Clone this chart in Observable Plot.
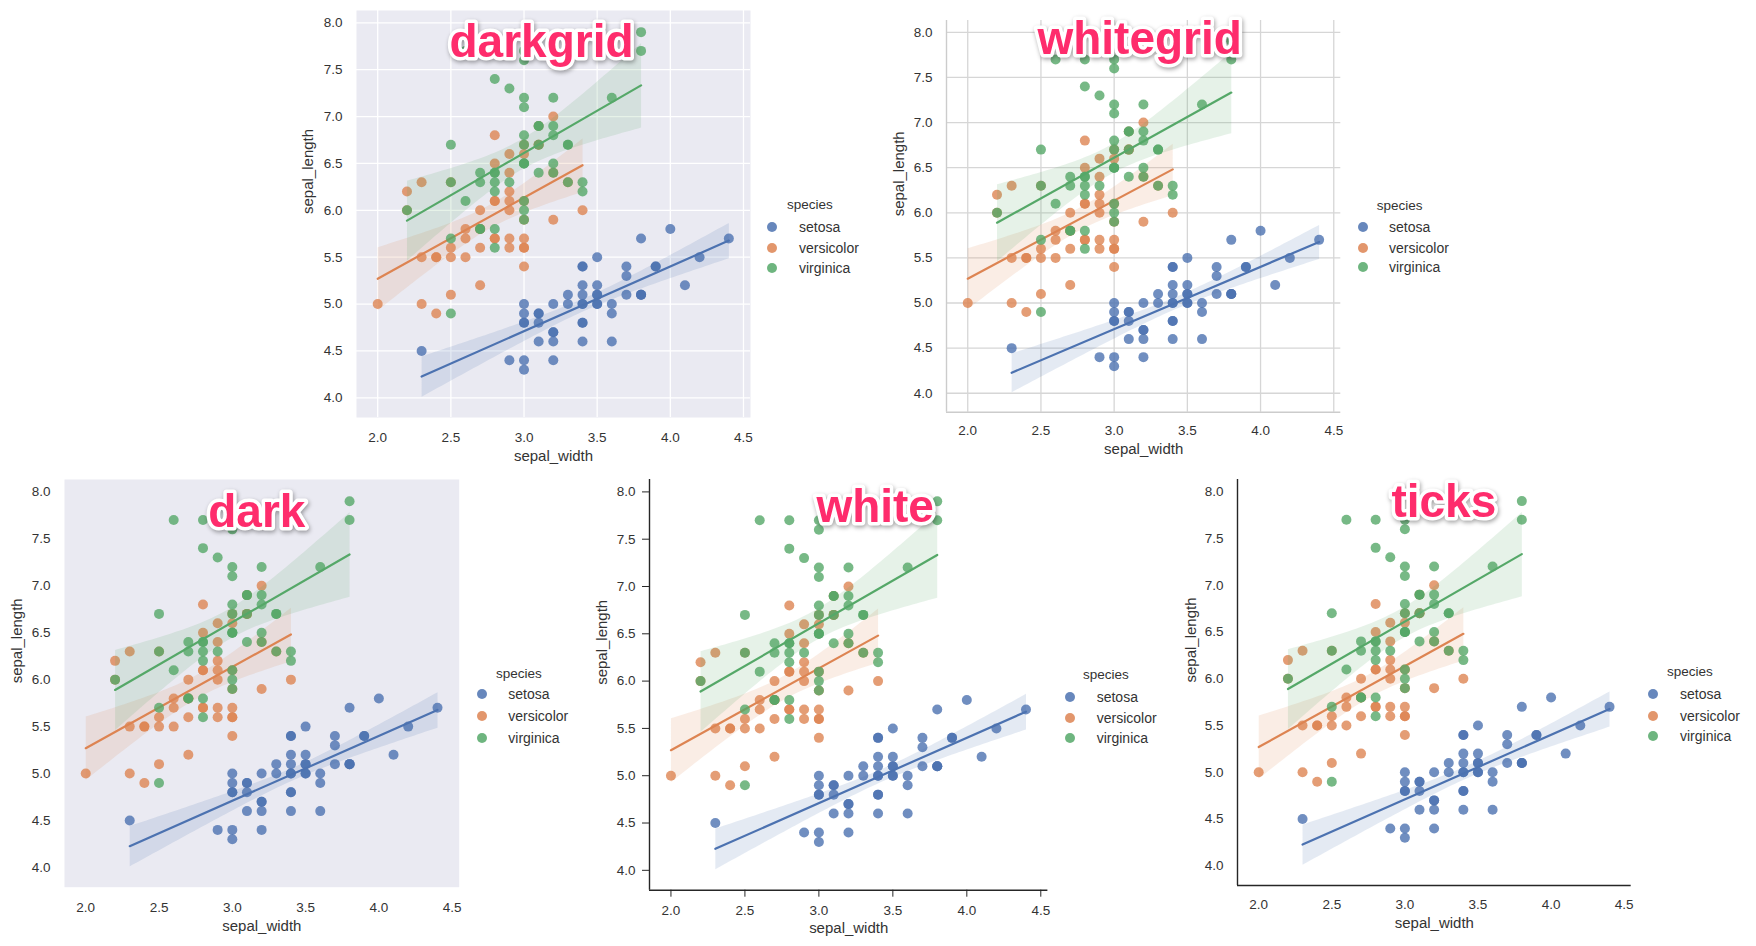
<!DOCTYPE html>
<html>
<head>
<meta charset="utf-8">
<script src="https://cdn.jsdelivr.net/npm/d3@7"></script>
<script src="https://cdn.jsdelivr.net/npm/@observablehq/plot@0.6"></script>
<style>
html, body { margin: 0; padding: 0; background: #fff; }
#root { position: relative; width: 1756px; height: 946px; overflow: hidden; font-family: "Liberation Sans", Arial, sans-serif; }
.panel { position: absolute; overflow: visible; }
.panel g[font-size="46"] { filter: drop-shadow(1px 2px 2px rgba(0,0,0,0.35)); }
.lg { position: absolute; color: #333; white-space: nowrap; line-height: 1; }
.lg-title { font-size: 13.5px; }
.lg-label { font-size: 14px; }
.lg-dot { position: absolute; width: 10px; height: 10px; border-radius: 50%; opacity: 0.85; }
</style>
</head>
<body>
<div id="root"></div>
<script>
// ---------- data (iris: sepal_width / sepal_length) ----------
const species = ["setosa", "versicolor", "virginica"];
const palette = ["#4c72b0", "#dd8452", "#55a868"];
const xTicks = [2.0, 2.5, 3.0, 3.5, 4.0, 4.5];
const yTicks = [4.0, 4.5, 5.0, 5.5, 6.0, 6.5, 7.0, 7.5, 8.0];
const styleNames = ["darkgrid", "whitegrid", "dark", "white", "ticks"];

const setosaLength = [5.1,4.9,4.7,4.6,5.0,5.4,4.6,5.0,4.4,4.9,5.4,4.8,4.8,4.3,5.8,5.7,5.4,5.1,5.7,5.1,5.4,5.1,4.6,5.1,4.8,5.0,5.0,5.2,5.2,4.7,4.8,5.4,5.2,5.5,4.9,5.0,5.5,4.9,4.4,5.1,5.0,4.5,4.4,5.0,5.1,4.8,5.1,4.6,5.3,5.0];
const setosaWidth = [3.5,3.0,3.2,3.1,3.6,3.9,3.4,3.4,2.9,3.1,3.7,3.4,3.0,3.0,4.0,4.4,3.9,3.5,3.8,3.8,3.4,3.7,3.6,3.3,3.4,3.0,3.4,3.5,3.4,3.2,3.1,3.4,4.1,4.2,3.1,3.2,3.5,3.6,3.0,3.4,3.5,2.3,3.2,3.5,3.8,3.0,3.8,3.2,3.7,3.3];
const versicolorLength = [7.0,6.4,6.9,5.5,6.5,5.7,6.3,4.9,6.6,5.2,5.0,5.9,6.0,6.1,5.6,6.7,5.6,5.8,6.2,5.6,5.9,6.1,6.3,6.1,6.4,6.6,6.8,6.7,6.0,5.7,5.5,5.5,5.8,6.0,5.4,6.0,6.7,6.3,5.6,5.5,5.5,6.1,5.8,5.0,5.6,5.7,5.7,6.2,5.1,5.7];
const versicolorWidth = [3.2,3.2,3.1,2.3,2.8,2.8,3.3,2.4,2.9,2.7,2.0,3.0,2.2,2.9,2.9,3.1,3.0,2.7,2.2,2.5,3.2,2.8,2.5,2.8,2.9,3.0,2.8,3.0,2.9,2.6,2.4,2.4,2.7,2.7,3.0,3.4,3.1,2.3,3.0,2.5,2.6,3.0,2.6,2.3,2.7,3.0,2.9,2.9,2.5,2.8];
const virginicaLength = [6.3,5.8,7.1,6.3,6.5,7.6,4.9,7.3,6.7,7.2,6.5,6.4,6.8,5.7,5.8,6.4,6.5,7.7,7.7,6.0,6.9,5.6,7.7,6.3,6.7,7.2,6.2,6.1,6.4,7.2,7.4,7.9,6.4,6.3,6.1,7.7,6.3,6.4,6.0,6.9,6.7,6.9,5.8,6.8,6.7,6.7,6.3,6.5,6.2,5.9];
const virginicaWidth = [3.3,2.7,3.0,2.9,3.0,3.0,2.5,2.9,2.5,3.6,3.2,2.7,3.0,2.5,2.8,3.2,3.0,3.8,2.6,2.2,3.2,2.8,2.8,2.7,3.3,3.2,2.8,3.0,2.8,3.0,2.8,3.8,2.8,2.8,2.6,3.0,3.4,3.1,3.0,3.1,3.1,3.1,2.7,3.2,3.3,3.0,2.5,3.0,3.4,3.0];

const lengths = [setosaLength, versicolorLength, virginicaLength];
const widths = [setosaWidth, versicolorWidth, virginicaWidth];
const iris = species.flatMap((s, k) => widths[k].map((w, i) => ({species: s, sepal_width: w, sepal_length: lengths[k][i]})));

// ---------- layout ----------
const xDomain = [1.855, 4.548];
const yDomain = [3.79, 8.131];
const fmt = d3.format(".1f");
const FONT = '"Liberation Sans", Arial, sans-serif';
const TEXT = "#333";
const PINK = "#fe2c6c";

const layout = {
  darkgrid:  {x0: 356,    x1: 750,    y0: 10,    y1: 417,   bg: "#eaeaf2", grid: "#ffffff", spine: null,      tick: 0, padY: 14, padX: 15, xlab: 39,   ylab: -48,   tdx: -12,  tdy: 46.7,
              lg: {mx: 772,    ty: 205, rows: [227, 248, 268],     tx: 787,    lx: 799}},
  whitegrid: {x0: 945.7,  x1: 1340,   y0: 20,    y1: 411.7, bg: null,      grid: "#d6d6d6", spine: "#cccccc", tick: 0, padY: 14, padX: 13, xlab: 36.5, ylab: -47.7, tdx: -4,   tdy: 33.3,
              lg: {mx: 1362.7, ty: 206, rows: [227.3, 247.7, 267.3], tx: 1376.7, lx: 1389}},
  dark:      {x0: 64.3,   x1: 459,    y0: 479,   y1: 886.7, bg: "#eaeaf2", grid: null,      spine: null,      tick: 0, padY: 14, padX: 15, xlab: 38.5, ylab: -47.6, tdx: -5,   tdy: 47.7,
              lg: {mx: 481.7,  ty: 674, rows: [694.3, 716, 737.7], tx: 496,    lx: 508.3}},
  white:     {x0: 649.3,  x1: 1047.7, y0: 479.3, y1: 890,   bg: null,      grid: null,      spine: "#262626", tick: 7, padY: 7,  padX: 8,  xlab: 38,   ylab: -47.6, tdx: 26.5, tdy: 42.4,
              lg: {mx: 1070,   ty: 675, rows: [696.7, 718, 738.3], tx: 1083,   lx: 1096.7}},
  ticks:     {x0: 1237.3, x1: 1631,   y0: 479,   y1: 885,   bg: null,      grid: null,      spine: "#262626", tick: 0, padY: 14, padX: 14, xlab: 38,   ylab: -46.7, tdx: 9.5,  tdy: 37.7,
              lg: {mx: 1653,   ty: 672, rows: [694.3, 716, 736],   tx: 1667,   lx: 1680}}
};

const root = document.getElementById("root");
const M = {left: 70, right: 10, top: 10, bottom: 52};

for (const name of styleNames) {
  const L = layout[name];
  const marks = [];
  if (L.bg) marks.push(Plot.frame({fill: L.bg, stroke: "none"}));
  if (L.grid) {
    marks.push(Plot.gridX(xTicks, {stroke: L.grid, strokeOpacity: 1, strokeWidth: 1.3}));
    marks.push(Plot.gridY(yTicks, {stroke: L.grid, strokeOpacity: 1, strokeWidth: 1.3}));
  }
  species.forEach((s) => {
    const sub = iris.filter((d) => d.species === s);
    marks.push(Plot.dot(sub, {x: "sepal_width", y: "sepal_length", fill: "species", r: 5, fillOpacity: 0.8, stroke: "none"}));
    marks.push(Plot.linearRegressionY(sub, {x: "sepal_width", y: "sepal_length", stroke: "species", fill: "species", fillOpacity: 0.15, strokeWidth: 2.2, ci: 0.95}));
  });
  if (L.spine) {
    marks.push(Plot.ruleX([xDomain[0]], {stroke: L.spine, strokeWidth: 1.4}));
    marks.push(Plot.ruleY([yDomain[0]], {stroke: L.spine, strokeWidth: 1.4}));
  }
  marks.push(Plot.axisX(xTicks, {tickFormat: fmt, tickSize: L.tick, tickPadding: L.padX, stroke: "#262626", fill: TEXT, fontSize: 13.5, label: null}));
  marks.push(Plot.axisY(yTicks, {tickFormat: fmt, tickSize: L.tick, tickPadding: L.padY, stroke: "#262626", fill: TEXT, fontSize: 13.5, label: null}));
  marks.push(Plot.text(["sepal_width"], {frameAnchor: "bottom", lineAnchor: "middle", dy: L.xlab, fontSize: 15, fill: TEXT}));
  marks.push(Plot.text(["sepal_length"], {frameAnchor: "left", lineAnchor: "middle", rotate: -90, dx: L.ylab, fontSize: 15, fill: TEXT}));
  marks.push(Plot.text([name], {frameAnchor: "top", lineAnchor: "bottom", dx: L.tdx, dy: L.tdy, fontSize: 46, fontWeight: "bold",
    fill: PINK, stroke: "#ffffff", strokeWidth: 7, strokeLinejoin: "round", paintOrder: "stroke"}));

  const svg = Plot.plot({
    width: (L.x1 - L.x0) + M.left + M.right,
    height: (L.y1 - L.y0) + M.top + M.bottom,
    marginLeft: M.left, marginRight: M.right, marginTop: M.top, marginBottom: M.bottom,
    x: {domain: xDomain, label: null},
    y: {domain: yDomain, label: null},
    color: {domain: species, range: palette},
    style: {fontFamily: FONT, fontSize: "13.5px", color: TEXT, background: "transparent", overflow: "visible"},
    marks
  });
  svg.classList.add("panel");
  svg.style.left = (L.x0 - M.left) + "px";
  svg.style.top = (L.y0 - M.top) + "px";
  root.appendChild(svg);

  // legend
  const g = L.lg;
  const t = document.createElement("div");
  t.className = "lg lg-title";
  t.textContent = "species";
  t.style.left = g.tx + "px";
  t.style.top = g.ty + "px";
  t.style.transform = "translateY(-50%)";
  root.appendChild(t);
  species.forEach((s, k) => {
    const dot = document.createElement("div");
    dot.className = "lg-dot";
    dot.style.background = palette[k];
    dot.style.left = (g.mx - 5) + "px";
    dot.style.top = (g.rows[k] - 5) + "px";
    root.appendChild(dot);
    const lab = document.createElement("div");
    lab.className = "lg lg-label";
    lab.textContent = s;
    lab.style.left = g.lx + "px";
    lab.style.top = g.rows[k] + "px";
    lab.style.transform = "translateY(-50%)";
    root.appendChild(lab);
  });
}
</script>
</body>
</html>
